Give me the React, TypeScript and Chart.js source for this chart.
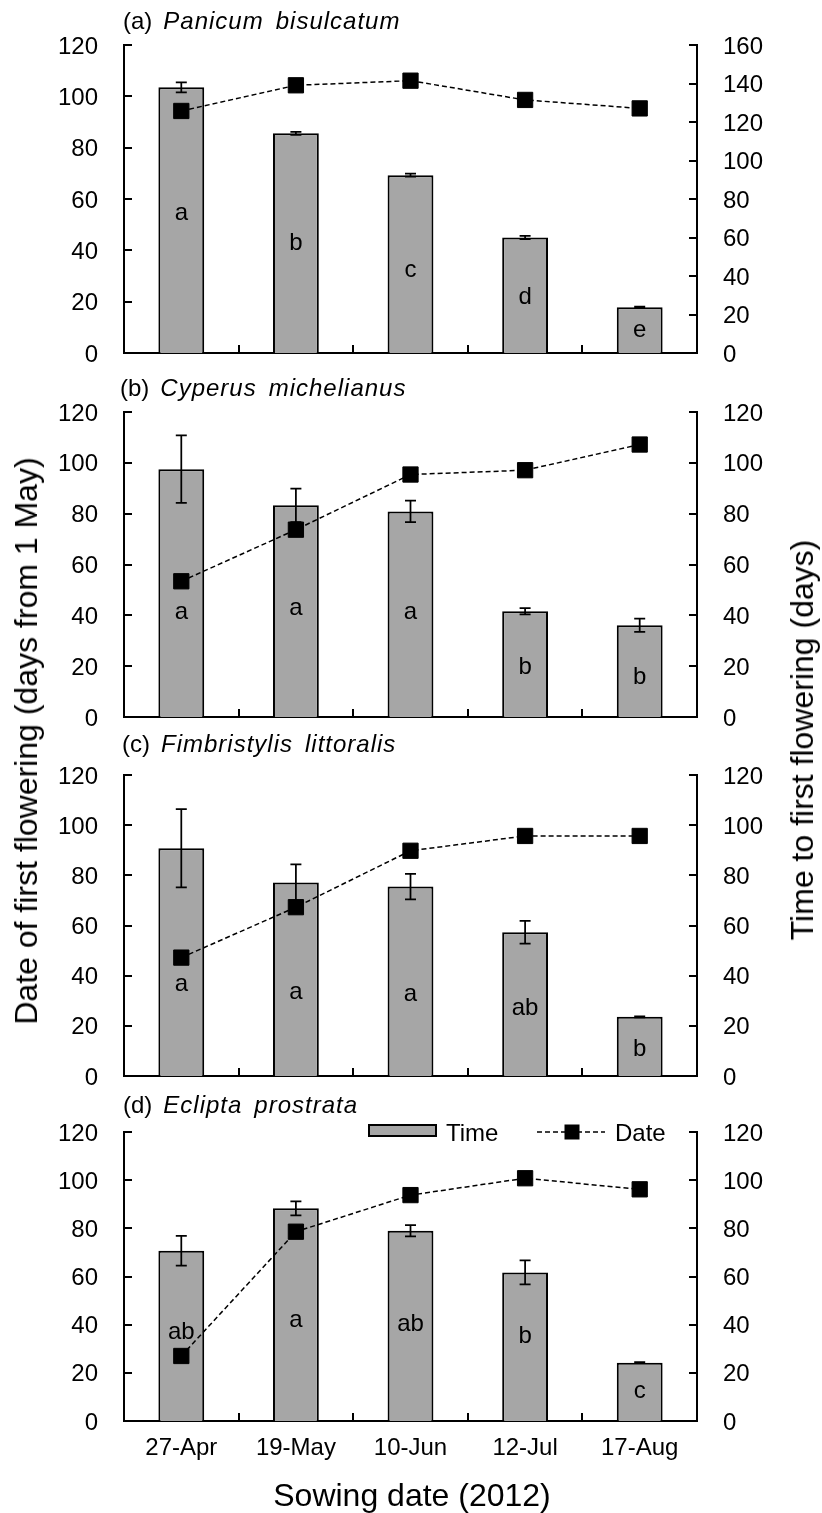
import React, { useEffect, useRef } from "react";
import { Chart, registerables } from "chart.js";

Chart.register(...registerables);

const FONT = "'Liberation Sans', Arial, Helvetica, sans-serif";

// ---------- data ----------
const categories = ["27-Apr", "19-May", "10-Jun", "12-Jul", "17-Aug"];

// (a) Panicum bisulcatum
const timeA = [138.0, 114.1, 92.4, 60.0, 23.8];
const timeErrA = [2.6, 0.8, 0.8, 0.8, 0.3];
const dateA = [94.3, 104.3, 106.1, 98.6, 95.3];
const lettersA = ["a", "b", "c", "d", "e"];
const letterLevelA = [72.5, 56.9, 43.0, 29.1, 11.8];

// (b) Cyperus michelianus
const timeB = [97.5, 83.3, 80.9, 41.6, 36.1];
const timeErrB = [13.3, 6.6, 4.2, 1.2, 2.6];
const dateB = [53.4, 73.7, 95.4, 97.1, 107.2];
const lettersB = ["a", "a", "a", "b", "b"];
const letterLevelB = [41.2, 42.8, 41.2, 19.4, 15.5];

// (c) Fimbristylis littoralis
const timeC = [90.8, 77.1, 75.5, 57.3, 23.6];
const timeErrC = [15.6, 7.3, 5.1, 4.5, 0.2];
const dateC = [47.2, 67.3, 89.8, 95.7, 95.7];
const lettersC = ["a", "a", "a", "ab", "b"];
const letterLevelC = [36.7, 33.4, 32.7, 27.0, 10.6];

// (d) Eclipta prostrata
const timeD = [70.7, 88.3, 79.0, 61.7, 24.2];
const timeErrD = [6.2, 2.9, 2.3, 5.0, 0.2];
const dateD = [27.0, 78.6, 93.8, 100.8, 96.2];
const lettersD = ["ab", "a", "ab", "b", "c"];
const letterLevelD = [36.8, 41.9, 40.3, 35.3, 12.2];

const dateAxisMax = 120;
const timeAxisMax = [160, 120, 120, 120];
const tickStep = 20;

// ---------- layout ----------
type PanelCfg = {
  tag: string;
  species: string[];
  time: number[];
  err: number[];
  date: number[];
  letters: string[];
  letterLevel: number[];
  timeMax: number;
  canvasTop: number;
  canvasH: number;
  areaTop: number;
  areaBottom: number;
  titleX: number;
  titleY: number;
  showX: boolean;
  legend: boolean;
};

const panels: PanelCfg[] = [
  {
    tag: "(a)", species: ["Panicum", "bisulcatum"],
    time: timeA, err: timeErrA, date: dateA, letters: lettersA, letterLevel: letterLevelA,
    timeMax: timeAxisMax[0], canvasTop: 0, canvasH: 370, areaTop: 45, areaBottom: 353,
    titleX: 123, titleY: 22, showX: false, legend: false,
  },
  {
    tag: "(b)", species: ["Cyperus", "michelianus"],
    time: timeB, err: timeErrB, date: dateB, letters: lettersB, letterLevel: letterLevelB,
    timeMax: timeAxisMax[1], canvasTop: 370, canvasH: 360, areaTop: 412, areaBottom: 717,
    titleX: 120, titleY: 389, showX: false, legend: false,
  },
  {
    tag: "(c)", species: ["Fimbristylis", "littoralis"],
    time: timeC, err: timeErrC, date: dateC, letters: lettersC, letterLevel: letterLevelC,
    timeMax: timeAxisMax[2], canvasTop: 730, canvasH: 360, areaTop: 775, areaBottom: 1076,
    titleX: 122, titleY: 745, showX: false, legend: false,
  },
  {
    tag: "(d)", species: ["Eclipta", "prostrata"],
    time: timeD, err: timeErrD, date: dateD, letters: lettersD, letterLevel: letterLevelD,
    timeMax: timeAxisMax[3], canvasTop: 1090, canvasH: 423, areaTop: 1132, areaBottom: 1421,
    titleX: 123, titleY: 1106, showX: true, legend: true,
  },
];

const BAR_FILL = "#a6a6a6";

function makePlugin(p: PanelCfg) {
  return {
    id: "panelDecor",
    afterDatasetDraw(chart: any, args: any) {
      if (args.index !== 0) return;
      const ctx = chart.ctx;
      const xs = chart.scales.x;
      const ys = chart.scales.y1;
      ctx.save();
      // error bars
      ctx.strokeStyle = "#000";
      ctx.lineWidth = 1.75;
      p.time.forEach((v, i) => {
        const cx = xs.getPixelForValue(i);
        const yt = ys.getPixelForValue(v + p.err[i]);
        const yb = ys.getPixelForValue(v - p.err[i]);
        ctx.beginPath();
        ctx.moveTo(cx, yt);
        ctx.lineTo(cx, yb);
        ctx.moveTo(cx - 5.5, yt);
        ctx.lineTo(cx + 5.5, yt);
        ctx.moveTo(cx - 5.5, yb);
        ctx.lineTo(cx + 5.5, yb);
        ctx.stroke();
      });
      // significance letters
      ctx.fillStyle = "#000";
      ctx.font = `24px ${FONT}`;
      ctx.textAlign = "center";
      ctx.textBaseline = "middle";
      p.letters.forEach((l, i) => {
        ctx.fillText(l, xs.getPixelForValue(i), ys.getPixelForValue(p.letterLevel[i]));
      });
      ctx.restore();
    },
    afterDraw(chart: any) {
      const ctx = chart.ctx;
      const { left, right, bottom } = chart.chartArea;
      const xs = chart.scales.x;
      const yl = chart.scales.y;
      const yr = chart.scales.y1;
      ctx.save();
      ctx.strokeStyle = "#000";
      ctx.lineWidth = 2;
      ctx.beginPath();
      yl.ticks.forEach((t: any) => {
        const py = Math.round(yl.getPixelForValue(t.value));
        ctx.moveTo(left, py);
        ctx.lineTo(left + 8, py);
      });
      yr.ticks.forEach((t: any) => {
        const py = Math.round(yr.getPixelForValue(t.value));
        ctx.moveTo(right - 8, py);
        ctx.lineTo(right, py);
      });
      for (let i = 0; i < categories.length - 1; i++) {
        const bx = Math.round((xs.getPixelForValue(i) + xs.getPixelForValue(i + 1)) / 2);
        ctx.moveTo(bx, bottom);
        ctx.lineTo(bx, bottom - 8);
      }
      ctx.stroke();

      // panel title
      const ty = p.titleY - p.canvasTop;
      ctx.fillStyle = "#000";
      ctx.textAlign = "left";
      ctx.textBaseline = "middle";
      ctx.font = `24px ${FONT}`;
      let tx = p.titleX;
      ctx.fillText(p.tag, tx, ty);
      tx += ctx.measureText(p.tag).width + 11;
      ctx.font = `italic 24px ${FONT}`;
      try { (ctx as any).letterSpacing = "1px"; } catch (e) {}
      p.species.forEach((w) => {
        ctx.fillText(w, tx, ty);
        tx += ctx.measureText(w).width + 12;
      });
      try { (ctx as any).letterSpacing = "0px"; } catch (e) {}

      // legend
      if (p.legend) {
        ctx.font = `24px ${FONT}`;
        ctx.fillStyle = BAR_FILL;
        ctx.fillRect(369, 35, 67, 11);
        ctx.strokeStyle = "#000";
        ctx.lineWidth = 2;
        ctx.strokeRect(369, 35, 67, 11);
        ctx.fillStyle = "#000";
        ctx.fillText("Time", 446, 44);
        ctx.beginPath();
        ctx.lineWidth = 1.5;
        ctx.setLineDash([5, 3]);
        ctx.moveTo(537, 42);
        ctx.lineTo(605, 42);
        ctx.stroke();
        ctx.setLineDash([]);
        ctx.fillRect(572 - 7.5, 42 - 7.5, 15, 15);
        ctx.fillText("Date", 615, 44);
      }
      ctx.restore();
    },
  };
}

function Panel({ cfg }: { cfg: PanelCfg }) {
  const ref = useRef<HTMLCanvasElement>(null);
  useEffect(() => {
    if (!ref.current) return;
    const xH = cfg.canvasH - (cfg.areaBottom - cfg.canvasTop);
    const tickFont = { size: 24, family: FONT };
    const zeroPad = (s: any) => {
      s.paddingTop = 0;
      s.paddingBottom = 0;
      s.paddingLeft = 0;
      s.paddingRight = 0;
    };
    const chart = new Chart(ref.current, {
      type: "bar",
      data: {
        labels: categories,
        datasets: [
          {
            type: "bar",
            label: "Time",
            data: cfg.time,
            yAxisID: "y1",
            backgroundColor: BAR_FILL,
            borderColor: "#000",
            borderWidth: 2,
            barPercentage: 0.4,
            categoryPercentage: 1,
            order: 1,
          } as any,
          {
            type: "line",
            label: "Date",
            data: cfg.date,
            yAxisID: "y",
            borderColor: "#000",
            borderWidth: 1.5,
            borderDash: [5, 3],
            pointStyle: "rect",
            pointRadius: 10.8,
            pointBackgroundColor: "#000",
            pointBorderColor: "#000",
            pointBorderWidth: 1,
            fill: false,
            tension: 0,
            order: 0,
            clip: false,
          } as any,
        ],
      },
      options: {
        responsive: false,
        animation: false,
        devicePixelRatio: 1,
        layout: { autoPadding: false, padding: { top: cfg.areaTop - cfg.canvasTop, left: 0, right: 0, bottom: 0 } },
        plugins: { legend: { display: false }, tooltip: { enabled: false }, title: { display: false } },
        scales: {
          x: {
            type: "category",
            offset: true,
            grid: { display: false, drawTicks: false },
            border: { display: true, color: "#000", width: 2 },
            ticks: {
              display: cfg.showX,
              color: "#000",
              font: tickFont,
              padding: 13,
              maxRotation: 0,
              autoSkip: false,
            },
            afterFit: (s: any) => { s.height = xH; zeroPad(s); },
          },
          y: {
            position: "left",
            min: 0,
            max: dateAxisMax,
            grid: { display: false, drawTicks: false },
            border: { display: true, color: "#000", width: 2 },
            ticks: { stepSize: tickStep, padding: 26, color: "#000", font: tickFont, labelOffset: 2 },
            afterFit: (s: any) => { s.width = 124; zeroPad(s); },
          },
          y1: {
            position: "right",
            min: 0,
            max: cfg.timeMax,
            grid: { display: false, drawTicks: false },
            border: { display: true, color: "#000", width: 2 },
            ticks: { stepSize: tickStep, padding: 26, color: "#000", font: tickFont, labelOffset: 2 },
            afterFit: (s: any) => { s.width = 125; zeroPad(s); },
          },
        },
      } as any,
      plugins: [makePlugin(cfg) as any],
    });
    return () => chart.destroy();
  }, [cfg]);
  return (
    <canvas
      ref={ref}
      width={822}
      height={cfg.canvasH}
      style={{ position: "absolute", left: 0, top: cfg.canvasTop, width: 822, height: cfg.canvasH }}
    />
  );
}

const titleBase: React.CSSProperties = {
  position: "absolute",
  fontFamily: FONT,
  fontSize: 32,
  lineHeight: "32px",
  whiteSpace: "nowrap",
  color: "#000",
  transform: "translate(-50%, -50%)",
};

export default function App() {
  return (
    <div style={{ position: "absolute", left: 0, top: 0, width: 822, height: 1513, background: "#fff", overflow: "hidden" }}>
      {panels.map((p) => (
        <Panel key={p.tag} cfg={p} />
      ))}
      <div style={{ ...titleBase, left: 26, top: 741, transform: "translate(-50%, -50%) rotate(-90deg)" }}>
        Date of first flowering (days from 1 May)
      </div>
      <div style={{ ...titleBase, left: 802, top: 740, transform: "translate(-50%, -50%) rotate(-90deg)" }}>
        Time to first flowering (days)
      </div>
      <div style={{ ...titleBase, left: 412, top: 1495 }}>Sowing date (2012)</div>
    </div>
  );
}
